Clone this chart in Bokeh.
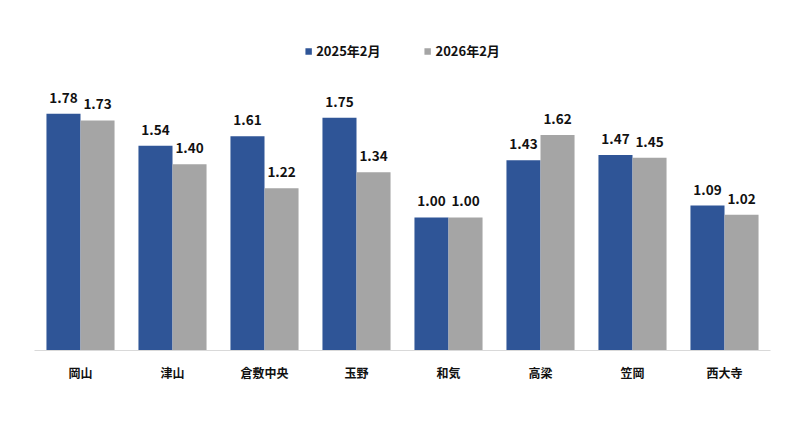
from bokeh.plotting import figure
from bokeh.models import ColumnDataSource, FactorRange, Range1d, Legend, LegendItem
from bokeh.transform import dodge
from bokeh.core.properties import value
from bokeh.embed import file_html
from bokeh.resources import INLINE

categories = ["岡山", "津山", "倉敷中央", "玉野", "和気", "高梁", "笠岡", "西大寺"]
series_names = ["2025年2月", "2026年2月"]
v2025 = [1.78, 1.54, 1.61, 1.75, 1.00, 1.43, 1.47, 1.09]
v2026 = [1.73, 1.40, 1.22, 1.34, 1.00, 1.62, 1.45, 1.02]

FONT = "Noto Sans CJK JP"
BLUE = "#2f5597"
GRAY = "#a5a5a5"

src = ColumnDataSource(dict(
    cat=categories,
    a=v2025, b=v2026,
    la=[f"{v:.2f}" for v in v2025],
    lb=[f"{v:.2f}" for v in v2026],
))

p = figure(width=784, height=419, x_range=FactorRange(*categories),
           y_range=Range1d(0, 2.496), output_backend="svg", toolbar_location=None,
           min_border_left=34, min_border_right=14, min_border_top=18, min_border_bottom=69)

w = 0.37
ra = p.vbar(x=dodge("cat", -w / 2, range=p.x_range), top="a", width=w, bottom=0,
            source=src, fill_color=BLUE, line_color=None)
rb = p.vbar(x=dodge("cat", w / 2, range=p.x_range), top="b", width=w, bottom=0,
            source=src, fill_color=GRAY, line_color=None)

for col, off in (("a", -w / 2), ("b", w / 2)):
    p.text(x=dodge("cat", off, range=p.x_range), y=col, text="l" + col, source=src,
           text_align="center", text_baseline="bottom", y_offset=-11,
           text_font=value(FONT), text_font_style="bold", text_font_size="13.5px",
           text_color="#111111")

legend = Legend(items=[LegendItem(label=series_names[0], renderers=[ra]),
                       LegendItem(label=series_names[1], renderers=[rb])],
                orientation="horizontal", location="top_center",
                border_line_color=None, background_fill_alpha=0,
                glyph_width=8, glyph_height=8, label_standoff=4, spacing=43,
                padding=0, margin=23,
                label_text_font=FONT, label_text_font_style="bold",
                label_text_font_size="13px", label_text_color="#111111")
p.add_layout(legend, "center")

p.yaxis.visible = False
p.xgrid.visible = False
p.ygrid.visible = False
p.outline_line_color = None
p.xaxis.axis_line_color = "#d9d9d9"
p.xaxis.major_tick_line_color = None
p.xaxis.minor_tick_line_color = None
p.xaxis.major_label_standoff = 7
p.xaxis.major_label_text_font = FONT
p.xaxis.major_label_text_font_style = "bold"
p.xaxis.major_label_text_font_size = "12px"
p.xaxis.major_label_text_color = "#111111"
p.x_range.range_padding = 0

open("out.html", "w").write(file_html(p, INLINE))
